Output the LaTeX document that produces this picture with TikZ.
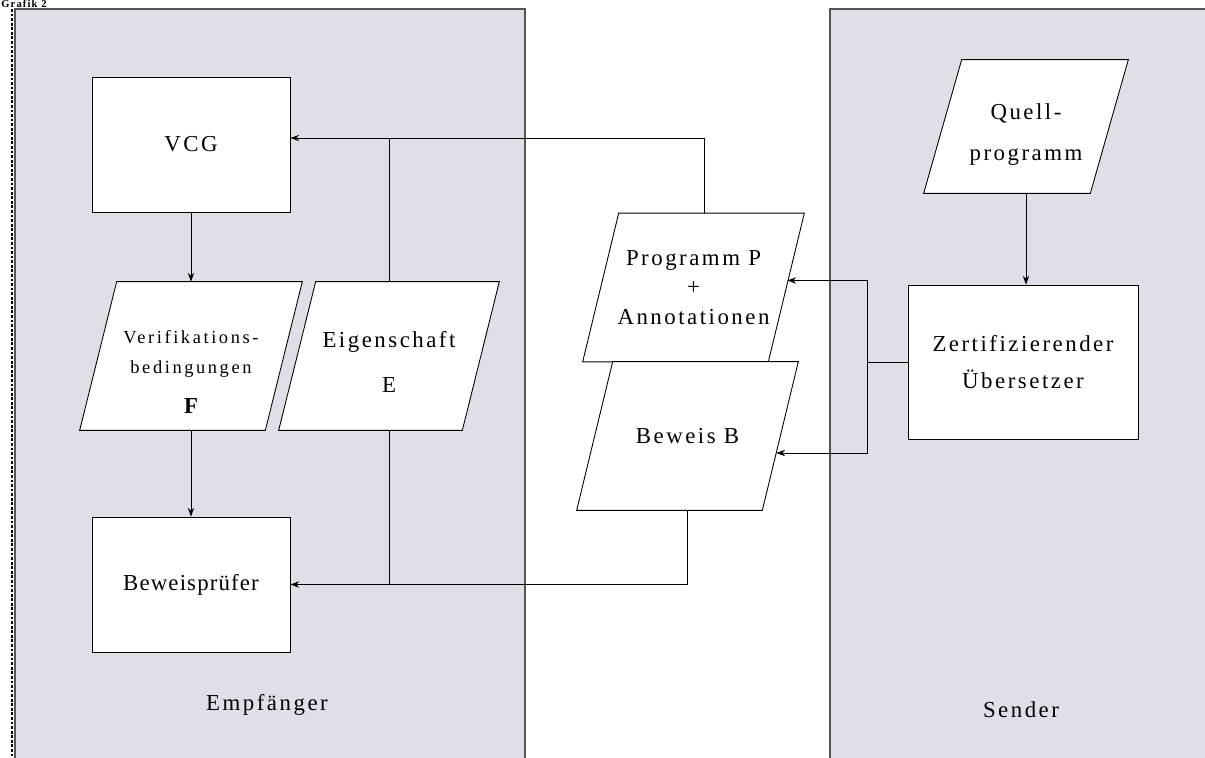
\documentclass[tikz,border=0pt]{standalone}
\usepackage{fontspec}
\setmainfont[LetterSpace=11]{Liberation Serif}
\newfontfamily\widefont[LetterSpace=14]{Liberation Serif}
\newfontfamily\tightfont[LetterSpace=5]{Liberation Serif}
\usetikzlibrary{arrows.meta}
\usetikzlibrary{calc}
\usetikzlibrary{backgrounds}
\definecolor{panelgray}{RGB}{223,223,231}
\definecolor{edgegray}{RGB}{85,85,85}
\pgfdeclarelayer{back}
\pgfdeclarelayer{mid}
\pgfsetlayers{back,mid,main}

\tikzset{
  box/.style={draw, fill=white, line width=0.5pt, minimum width=3.96cm, minimum height=2.7cm,
    inner sep=0pt, align=center, font=\fontsize{13}{17}\selectfont},
  plg/.style={minimum width=4.42cm, minimum height=2.96cm,
    inner sep=0pt, align=center, font=\fontsize{13}{17}\selectfont},
  plgline/.style={draw, fill=white, line width=0.5pt},
  arr/.style={-{Stealth[length=5pt,width=3.6pt]}, line width=0.5pt},
  link/.style={line width=0.5pt},
  panel/.style={fill=panelgray, draw=edgegray, line width=1.1pt},
  lbl/.style={font=\fontsize{13}{16}\selectfont},
}

\begin{document}
\begin{tikzpicture}[x=0.02cm, y=-0.02cm]
  \useasboundingbox (0,0) rectangle (1205,758);

  % Panels
  \begin{pgfonlayer}{back}
    \draw[panel] (15,9) rectangle (525,775);
    \draw[panel] (830,9) rectangle (1220,775);
    \draw[line width=1.1pt, dash pattern=on 1.6pt off 1pt] (12,9) -- (12,770);
  \end{pgfonlayer}
  \node[anchor=base west, inner sep=0pt, font=\bfseries\fontsize{6}{7}\selectfont] (title) at (1,7.5) {Grafik 2};

  % Empfaenger side
  \node[box] (vcg) at (191,144.5) {VCG};
  \node[plg, minimum width=4.44cm] (verif) at (191,356)
    {\widefont\fontsize{10.5}{15}\selectfont\rule{0pt}{26pt}Verifikations-\\
     \widefont\fontsize{10.5}{15}\selectfont bedingungen\\[6pt]\bfseries F};
  \node[plg, minimum width=4.4cm] (eig) at (389,356) {\rule{0pt}{16pt}Eigenschaft\\[9pt]E};
  \node[box] (bpr) at (191,584.5) {\tightfont Beweisprüfer};

  % Transfer
  \node[plg] (prog) at (693.5,287.5) {Programm P\\+\\Annotationen};
  \node[plg] (bew) at (687.5,436) {Beweis B};

  % Sender side
  \node[plg, minimum width=4.08cm, minimum height=2.66cm] (quell) at (1026,126.5)
    {\rule{0pt}{18pt}Quell-\\[6pt]programm};
  \node[box, minimum width=4.6cm, minimum height=3.08cm] (zert) at (1023,362) {Zertifizierender\\[4pt]Übersetzer};

  % Parallelogram outlines
  \begin{pgfonlayer}{mid}
    \foreach \n/\s in {verif/37, eig/37, prog/36, bew/36, quell/38} {
      \draw[plgline] (\n.south west) -- ($(\n.north west)+(\s,0)$) -- (\n.north east)
        -- ($(\n.south east)-(\s,0)$) -- cycle;
    }
  \end{pgfonlayer}

  % Labels
  \node[lbl] (empf) at (267,705) {Empfänger};
  \node[lbl] (send) at (1021,710) {Sender};

  % Connectors
  \coordinate (vin) at ([yshift=0.13cm]vcg.east);
  \coordinate (progin) at ($(prog.east)+(-17,-7)$);
  \coordinate (bewin) at ($(bew.east)+(-22,17)$);
  \draw[arr] (vcg.south) -- (vcg.south |- verif.north);
  \draw[arr] (bpr.north |- verif.south) -- (bpr.north);
  \draw[arr] ([xshift=0.22cm]prog.north) |- (vin);
  \draw[link] (eig.north) -- (eig.north |- vin);
  \draw[link] (eig.south) -- (eig.south |- bpr.east);
  \draw[arr] (bew.south) |- (bpr.east);
  \draw[arr] (quell.south) -- (quell.south |- zert.north);
  \draw[arr] (zert.west) -- ++(-40,0) |- (progin);
  \draw[arr] (zert.west) -- ++(-40,0) |- (bewin);
\end{tikzpicture}
\end{document}
